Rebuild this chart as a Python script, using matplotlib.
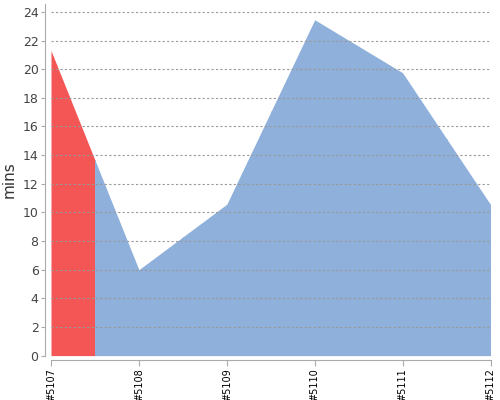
import numpy as np
import matplotlib.pyplot as plt
from matplotlib.patches import Rectangle

# build durations (minutes)
builds = ['#5107', '#5108', '#5109', '#5110', '#5111', '#5112']
durations = [21.3, 6.0, 10.57, 23.45, 19.75, 10.55]
status = ['failed', 'success', 'success', 'success', 'success', 'success']

colors = {'failed': '#f45555', 'success': '#8fb0da'}

fig = plt.figure(figsize=(5, 4), dpi=100)
ax = fig.add_axes([0.102, 0.111, 0.879, 0.879])

x = np.arange(len(builds))

# each build colours the half-interval around its own point
for i, st in enumerate(status):
    poly = ax.fill_between(x, durations, 0, color=colors[st], linewidth=0, zorder=1)
    clip = Rectangle((i - 0.5, -1), 1.0, 100, transform=ax.transData)
    poly.set_clip_path(clip)

ax.set_xlim(x[0], x[-1])
ax.set_ylim(0, 24.55)
ax.set_yticks(np.arange(0, 25, 2))
ax.set_xticks(x)
ax.set_xticklabels(builds)
ax.tick_params(axis='y', labelsize=9, labelcolor='#444444', color='#aaaaaa', length=3, pad=2)
ax.tick_params(axis='x', labelsize=7, labelrotation=90, labelcolor='black',
               color='#aaaaaa', length=4, pad=2)

ax.yaxis.grid(True, linestyle=(0, (2, 2)), color='#999999', linewidth=0.8, zorder=3)
ax.set_axisbelow(False)

for s in ['top', 'right']:
    ax.spines[s].set_visible(False)
ax.spines['left'].set_position(('outward', 4))
ax.spines['bottom'].set_position(('outward', 3))
ax.spines['left'].set_color('#aaaaaa')
ax.spines['bottom'].set_color('#aaaaaa')

ax.set_ylabel('mins', fontsize=11, color='#333333', labelpad=4)

fig.savefig('out.png', dpi=100)
